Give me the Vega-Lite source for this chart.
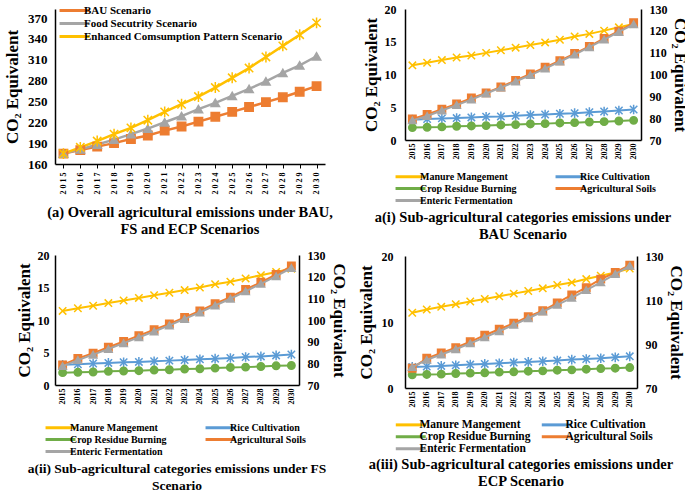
{
"$schema": "https://vega.github.io/schema/vega-lite/v6.json",
"padding": {"left": 3, "top": 3, "right": 1, "bottom": 1},
"columns": 2,
"align": "none",
"spacing": 10,
"resolve": {"scale": {"color": "independent", "stroke": "independent", "shape": "independent"}, "legend": {"color": "independent"}},
"datasets": {
"main": [
{"year":"2015","cat":"BAU Scenario","value":175},{"year":"2016","cat":"BAU Scenario","value":180},{"year":"2017","cat":"BAU Scenario","value":185},{"year":"2018","cat":"BAU Scenario","value":190},{"year":"2019","cat":"BAU Scenario","value":196},{"year":"2020","cat":"BAU Scenario","value":201},{"year":"2021","cat":"BAU Scenario","value":208},{"year":"2022","cat":"BAU Scenario","value":214},{"year":"2023","cat":"BAU Scenario","value":221},{"year":"2024","cat":"BAU Scenario","value":228},{"year":"2025","cat":"BAU Scenario","value":235},{"year":"2026","cat":"BAU Scenario","value":242},{"year":"2027","cat":"BAU Scenario","value":249},{"year":"2028","cat":"BAU Scenario","value":256},{"year":"2029","cat":"BAU Scenario","value":264},{"year":"2030","cat":"BAU Scenario","value":272},
{"year":"2015","cat":"Food Secutrity Scenario","value":175},{"year":"2016","cat":"Food Secutrity Scenario","value":181},{"year":"2017","cat":"Food Secutrity Scenario","value":188},{"year":"2018","cat":"Food Secutrity Scenario","value":195},{"year":"2019","cat":"Food Secutrity Scenario","value":203},{"year":"2020","cat":"Food Secutrity Scenario","value":211},{"year":"2021","cat":"Food Secutrity Scenario","value":220},{"year":"2022","cat":"Food Secutrity Scenario","value":229},{"year":"2023","cat":"Food Secutrity Scenario","value":239},{"year":"2024","cat":"Food Secutrity Scenario","value":248},{"year":"2025","cat":"Food Secutrity Scenario","value":258},{"year":"2026","cat":"Food Secutrity Scenario","value":268},{"year":"2027","cat":"Food Secutrity Scenario","value":279},{"year":"2028","cat":"Food Secutrity Scenario","value":291},{"year":"2029","cat":"Food Secutrity Scenario","value":302},{"year":"2030","cat":"Food Secutrity Scenario","value":315},
{"year":"2015","cat":"Enhanced Comsumption Pattern Scenario","value":175},{"year":"2016","cat":"Enhanced Comsumption Pattern Scenario","value":184},{"year":"2017","cat":"Enhanced Comsumption Pattern Scenario","value":193},{"year":"2018","cat":"Enhanced Comsumption Pattern Scenario","value":203},{"year":"2019","cat":"Enhanced Comsumption Pattern Scenario","value":212},{"year":"2020","cat":"Enhanced Comsumption Pattern Scenario","value":223},{"year":"2021","cat":"Enhanced Comsumption Pattern Scenario","value":235},{"year":"2022","cat":"Enhanced Comsumption Pattern Scenario","value":246},{"year":"2023","cat":"Enhanced Comsumption Pattern Scenario","value":257},{"year":"2024","cat":"Enhanced Comsumption Pattern Scenario","value":270},{"year":"2025","cat":"Enhanced Comsumption Pattern Scenario","value":284},{"year":"2026","cat":"Enhanced Comsumption Pattern Scenario","value":298},{"year":"2027","cat":"Enhanced Comsumption Pattern Scenario","value":314},{"year":"2028","cat":"Enhanced Comsumption Pattern Scenario","value":330},{"year":"2029","cat":"Enhanced Comsumption Pattern Scenario","value":346},{"year":"2030","cat":"Enhanced Comsumption Pattern Scenario","value":363}
],
"bau": [
{"year":"2015","cat":"Manure Mangement","value":11.4},{"year":"2016","cat":"Manure Mangement","value":11.8},{"year":"2017","cat":"Manure Mangement","value":12.2},{"year":"2018","cat":"Manure Mangement","value":12.6},{"year":"2019","cat":"Manure Mangement","value":12.9},{"year":"2020","cat":"Manure Mangement","value":13.3},{"year":"2021","cat":"Manure Mangement","value":13.7},{"year":"2022","cat":"Manure Mangement","value":14.1},{"year":"2023","cat":"Manure Mangement","value":14.5},{"year":"2024","cat":"Manure Mangement","value":14.9},{"year":"2025","cat":"Manure Mangement","value":15.3},{"year":"2026","cat":"Manure Mangement","value":15.8},{"year":"2027","cat":"Manure Mangement","value":16.2},{"year":"2028","cat":"Manure Mangement","value":16.7},{"year":"2029","cat":"Manure Mangement","value":17.2},{"year":"2030","cat":"Manure Mangement","value":17.7},
{"year":"2015","cat":"Rice Cultivation","value":3.1},{"year":"2016","cat":"Rice Cultivation","value":3.2},{"year":"2017","cat":"Rice Cultivation","value":3.3},{"year":"2018","cat":"Rice Cultivation","value":3.35},{"year":"2019","cat":"Rice Cultivation","value":3.45},{"year":"2020","cat":"Rice Cultivation","value":3.55},{"year":"2021","cat":"Rice Cultivation","value":3.6},{"year":"2022","cat":"Rice Cultivation","value":3.7},{"year":"2023","cat":"Rice Cultivation","value":3.8},{"year":"2024","cat":"Rice Cultivation","value":3.9},{"year":"2025","cat":"Rice Cultivation","value":4.0},{"year":"2026","cat":"Rice Cultivation","value":4.1},{"year":"2027","cat":"Rice Cultivation","value":4.25},{"year":"2028","cat":"Rice Cultivation","value":4.35},{"year":"2029","cat":"Rice Cultivation","value":4.5},{"year":"2030","cat":"Rice Cultivation","value":4.65},
{"year":"2015","cat":"Crop Residue Burning","value":1.9},{"year":"2016","cat":"Crop Residue Burning","value":1.95},{"year":"2017","cat":"Crop Residue Burning","value":2.0},{"year":"2018","cat":"Crop Residue Burning","value":2.1},{"year":"2019","cat":"Crop Residue Burning","value":2.15},{"year":"2020","cat":"Crop Residue Burning","value":2.2},{"year":"2021","cat":"Crop Residue Burning","value":2.3},{"year":"2022","cat":"Crop Residue Burning","value":2.35},{"year":"2023","cat":"Crop Residue Burning","value":2.45},{"year":"2024","cat":"Crop Residue Burning","value":2.5},{"year":"2025","cat":"Crop Residue Burning","value":2.6},{"year":"2026","cat":"Crop Residue Burning","value":2.65},{"year":"2027","cat":"Crop Residue Burning","value":2.75},{"year":"2028","cat":"Crop Residue Burning","value":2.8},{"year":"2029","cat":"Crop Residue Burning","value":2.9},{"year":"2030","cat":"Crop Residue Burning","value":3.0},
{"year":"2015","cat":"Agricultural Soils","value":3.2},{"year":"2016","cat":"Agricultural Soils","value":3.9},{"year":"2017","cat":"Agricultural Soils","value":4.7},{"year":"2018","cat":"Agricultural Soils","value":5.5},{"year":"2019","cat":"Agricultural Soils","value":6.4},{"year":"2020","cat":"Agricultural Soils","value":7.2},{"year":"2021","cat":"Agricultural Soils","value":8.1},{"year":"2022","cat":"Agricultural Soils","value":9.1},{"year":"2023","cat":"Agricultural Soils","value":10.1},{"year":"2024","cat":"Agricultural Soils","value":11.1},{"year":"2025","cat":"Agricultural Soils","value":12.1},{"year":"2026","cat":"Agricultural Soils","value":13.2},{"year":"2027","cat":"Agricultural Soils","value":14.3},{"year":"2028","cat":"Agricultural Soils","value":15.5},{"year":"2029","cat":"Agricultural Soils","value":16.6},{"year":"2030","cat":"Agricultural Soils","value":17.9},
{"year":"2015","cat":"Enteric Fermentation","value":79},{"year":"2016","cat":"Enteric Fermentation","value":81},{"year":"2017","cat":"Enteric Fermentation","value":83.5},{"year":"2018","cat":"Enteric Fermentation","value":86},{"year":"2019","cat":"Enteric Fermentation","value":88.5},{"year":"2020","cat":"Enteric Fermentation","value":91.3},{"year":"2021","cat":"Enteric Fermentation","value":94},{"year":"2022","cat":"Enteric Fermentation","value":96.8},{"year":"2023","cat":"Enteric Fermentation","value":99.7},{"year":"2024","cat":"Enteric Fermentation","value":102.7},{"year":"2025","cat":"Enteric Fermentation","value":105.9},{"year":"2026","cat":"Enteric Fermentation","value":109.1},{"year":"2027","cat":"Enteric Fermentation","value":112.5},{"year":"2028","cat":"Enteric Fermentation","value":116},{"year":"2029","cat":"Enteric Fermentation","value":119.5},{"year":"2030","cat":"Enteric Fermentation","value":123}
],
"fs": [
{"year":"2015","cat":"Manure Mangement","value":11.4},{"year":"2016","cat":"Manure Mangement","value":11.8},{"year":"2017","cat":"Manure Mangement","value":12.2},{"year":"2018","cat":"Manure Mangement","value":12.6},{"year":"2019","cat":"Manure Mangement","value":13.0},{"year":"2020","cat":"Manure Mangement","value":13.4},{"year":"2021","cat":"Manure Mangement","value":13.8},{"year":"2022","cat":"Manure Mangement","value":14.2},{"year":"2023","cat":"Manure Mangement","value":14.6},{"year":"2024","cat":"Manure Mangement","value":15.0},{"year":"2025","cat":"Manure Mangement","value":15.5},{"year":"2026","cat":"Manure Mangement","value":15.9},{"year":"2027","cat":"Manure Mangement","value":16.4},{"year":"2028","cat":"Manure Mangement","value":16.9},{"year":"2029","cat":"Manure Mangement","value":17.4},{"year":"2030","cat":"Manure Mangement","value":17.9},
{"year":"2015","cat":"Rice Cultivation","value":3.1},{"year":"2016","cat":"Rice Cultivation","value":3.2},{"year":"2017","cat":"Rice Cultivation","value":3.3},{"year":"2018","cat":"Rice Cultivation","value":3.4},{"year":"2019","cat":"Rice Cultivation","value":3.5},{"year":"2020","cat":"Rice Cultivation","value":3.55},{"year":"2021","cat":"Rice Cultivation","value":3.65},{"year":"2022","cat":"Rice Cultivation","value":3.75},{"year":"2023","cat":"Rice Cultivation","value":3.85},{"year":"2024","cat":"Rice Cultivation","value":3.95},{"year":"2025","cat":"Rice Cultivation","value":4.05},{"year":"2026","cat":"Rice Cultivation","value":4.15},{"year":"2027","cat":"Rice Cultivation","value":4.3},{"year":"2028","cat":"Rice Cultivation","value":4.4},{"year":"2029","cat":"Rice Cultivation","value":4.55},{"year":"2030","cat":"Rice Cultivation","value":4.7},
{"year":"2015","cat":"Crop Residue Burning","value":1.9},{"year":"2016","cat":"Crop Residue Burning","value":1.95},{"year":"2017","cat":"Crop Residue Burning","value":2.0},{"year":"2018","cat":"Crop Residue Burning","value":2.1},{"year":"2019","cat":"Crop Residue Burning","value":2.15},{"year":"2020","cat":"Crop Residue Burning","value":2.2},{"year":"2021","cat":"Crop Residue Burning","value":2.3},{"year":"2022","cat":"Crop Residue Burning","value":2.35},{"year":"2023","cat":"Crop Residue Burning","value":2.45},{"year":"2024","cat":"Crop Residue Burning","value":2.5},{"year":"2025","cat":"Crop Residue Burning","value":2.6},{"year":"2026","cat":"Crop Residue Burning","value":2.7},{"year":"2027","cat":"Crop Residue Burning","value":2.75},{"year":"2028","cat":"Crop Residue Burning","value":2.85},{"year":"2029","cat":"Crop Residue Burning","value":2.95},{"year":"2030","cat":"Crop Residue Burning","value":3.0},
{"year":"2015","cat":"Agricultural Soils","value":3.1},{"year":"2016","cat":"Agricultural Soils","value":4.1},{"year":"2017","cat":"Agricultural Soils","value":4.9},{"year":"2018","cat":"Agricultural Soils","value":5.8},{"year":"2019","cat":"Agricultural Soils","value":6.7},{"year":"2020","cat":"Agricultural Soils","value":7.6},{"year":"2021","cat":"Agricultural Soils","value":8.5},{"year":"2022","cat":"Agricultural Soils","value":9.4},{"year":"2023","cat":"Agricultural Soils","value":10.4},{"year":"2024","cat":"Agricultural Soils","value":11.4},{"year":"2025","cat":"Agricultural Soils","value":12.5},{"year":"2026","cat":"Agricultural Soils","value":13.5},{"year":"2027","cat":"Agricultural Soils","value":14.7},{"year":"2028","cat":"Agricultural Soils","value":15.8},{"year":"2029","cat":"Agricultural Soils","value":17.0},{"year":"2030","cat":"Agricultural Soils","value":18.3},
{"year":"2015","cat":"Enteric Fermentation","value":78.7},{"year":"2016","cat":"Enteric Fermentation","value":81.5},{"year":"2017","cat":"Enteric Fermentation","value":84},{"year":"2018","cat":"Enteric Fermentation","value":86.6},{"year":"2019","cat":"Enteric Fermentation","value":89.3},{"year":"2020","cat":"Enteric Fermentation","value":92},{"year":"2021","cat":"Enteric Fermentation","value":94.7},{"year":"2022","cat":"Enteric Fermentation","value":97.5},{"year":"2023","cat":"Enteric Fermentation","value":100.5},{"year":"2024","cat":"Enteric Fermentation","value":103.5},{"year":"2025","cat":"Enteric Fermentation","value":106.7},{"year":"2026","cat":"Enteric Fermentation","value":109.8},{"year":"2027","cat":"Enteric Fermentation","value":113.2},{"year":"2028","cat":"Enteric Fermentation","value":116.7},{"year":"2029","cat":"Enteric Fermentation","value":120.2},{"year":"2030","cat":"Enteric Fermentation","value":124}
],
"ecp": [
{"year":"2015","cat":"Manure Mangement","value":11.4},{"year":"2016","cat":"Manure Mangement","value":11.9},{"year":"2017","cat":"Manure Mangement","value":12.3},{"year":"2018","cat":"Manure Mangement","value":12.7},{"year":"2019","cat":"Manure Mangement","value":13.1},{"year":"2020","cat":"Manure Mangement","value":13.5},{"year":"2021","cat":"Manure Mangement","value":13.9},{"year":"2022","cat":"Manure Mangement","value":14.3},{"year":"2023","cat":"Manure Mangement","value":14.7},{"year":"2024","cat":"Manure Mangement","value":15.1},{"year":"2025","cat":"Manure Mangement","value":15.6},{"year":"2026","cat":"Manure Mangement","value":16.0},{"year":"2027","cat":"Manure Mangement","value":16.5},{"year":"2028","cat":"Manure Mangement","value":17.0},{"year":"2029","cat":"Manure Mangement","value":17.5},{"year":"2030","cat":"Manure Mangement","value":18.1},
{"year":"2015","cat":"Rice Cultivation","value":3.2},{"year":"2016","cat":"Rice Cultivation","value":3.25},{"year":"2017","cat":"Rice Cultivation","value":3.35},{"year":"2018","cat":"Rice Cultivation","value":3.45},{"year":"2019","cat":"Rice Cultivation","value":3.55},{"year":"2020","cat":"Rice Cultivation","value":3.65},{"year":"2021","cat":"Rice Cultivation","value":3.75},{"year":"2022","cat":"Rice Cultivation","value":3.85},{"year":"2023","cat":"Rice Cultivation","value":3.95},{"year":"2024","cat":"Rice Cultivation","value":4.05},{"year":"2025","cat":"Rice Cultivation","value":4.15},{"year":"2026","cat":"Rice Cultivation","value":4.3},{"year":"2027","cat":"Rice Cultivation","value":4.4},{"year":"2028","cat":"Rice Cultivation","value":4.5},{"year":"2029","cat":"Rice Cultivation","value":4.65},{"year":"2030","cat":"Rice Cultivation","value":4.8},
{"year":"2015","cat":"Crop Residue Burning","value":2.0},{"year":"2016","cat":"Crop Residue Burning","value":2.05},{"year":"2017","cat":"Crop Residue Burning","value":2.1},{"year":"2018","cat":"Crop Residue Burning","value":2.2},{"year":"2019","cat":"Crop Residue Burning","value":2.25},{"year":"2020","cat":"Crop Residue Burning","value":2.3},{"year":"2021","cat":"Crop Residue Burning","value":2.4},{"year":"2022","cat":"Crop Residue Burning","value":2.45},{"year":"2023","cat":"Crop Residue Burning","value":2.55},{"year":"2024","cat":"Crop Residue Burning","value":2.6},{"year":"2025","cat":"Crop Residue Burning","value":2.7},{"year":"2026","cat":"Crop Residue Burning","value":2.75},{"year":"2027","cat":"Crop Residue Burning","value":2.85},{"year":"2028","cat":"Crop Residue Burning","value":2.95},{"year":"2029","cat":"Crop Residue Burning","value":3.0},{"year":"2030","cat":"Crop Residue Burning","value":3.1},
{"year":"2015","cat":"Agricultural Soils","value":3.0},{"year":"2016","cat":"Agricultural Soils","value":4.5},{"year":"2017","cat":"Agricultural Soils","value":5.3},{"year":"2018","cat":"Agricultural Soils","value":6.1},{"year":"2019","cat":"Agricultural Soils","value":7.0},{"year":"2020","cat":"Agricultural Soils","value":8.0},{"year":"2021","cat":"Agricultural Soils","value":8.9},{"year":"2022","cat":"Agricultural Soils","value":9.8},{"year":"2023","cat":"Agricultural Soils","value":10.8},{"year":"2024","cat":"Agricultural Soils","value":11.7},{"year":"2025","cat":"Agricultural Soils","value":12.9},{"year":"2026","cat":"Agricultural Soils","value":14.1},{"year":"2027","cat":"Agricultural Soils","value":15.2},{"year":"2028","cat":"Agricultural Soils","value":16.5},{"year":"2029","cat":"Agricultural Soils","value":17.5},{"year":"2030","cat":"Agricultural Soils","value":18.6},
{"year":"2015","cat":"Enteric Fermentation","value":79.5},{"year":"2016","cat":"Enteric Fermentation","value":82.8},{"year":"2017","cat":"Enteric Fermentation","value":85.2},{"year":"2018","cat":"Enteric Fermentation","value":87.6},{"year":"2019","cat":"Enteric Fermentation","value":90.3},{"year":"2020","cat":"Enteric Fermentation","value":93},{"year":"2021","cat":"Enteric Fermentation","value":95.8},{"year":"2022","cat":"Enteric Fermentation","value":98.7},{"year":"2023","cat":"Enteric Fermentation","value":101.7},{"year":"2024","cat":"Enteric Fermentation","value":104.7},{"year":"2025","cat":"Enteric Fermentation","value":107.8},{"year":"2026","cat":"Enteric Fermentation","value":111},{"year":"2027","cat":"Enteric Fermentation","value":114.5},{"year":"2028","cat":"Enteric Fermentation","value":118},{"year":"2029","cat":"Enteric Fermentation","value":121.8},{"year":"2030","cat":"Enteric Fermentation","value":125.5}
]
},
"concat": [
{"concat": [
{
 "width": 270, "height": 155,
 "data": {"name": "main"},
 "title": {"text": ["(a) Overall agricultural emissions under BAU,", "FS and ECP Scenarios"], "orient": "bottom", "fontSize": 14.5, "offset": 12},
 "encoding": {
  "x": {"field": "year", "type": "ordinal", "scale": {"type": "point", "padding": 0.5}, "axis": {"title": null, "labelAngle": 270, "labelFontSize": 8, "labelPadding": 4, "tickSize": 4, "labelExpr": "join(split(datum.label, ''), ' ')"}},
  "y": {"field": "value", "type": "quantitative", "scale": {"domain": [160, 383], "nice": false, "zero": false}, "axis": {"values": [160,190,220,250,280,310,340,370], "title": "CO₂ Equivalent", "labelFontSize": 13, "labelPadding": 8, "titleFontSize": 17, "titlePadding": 6, "tickSize": 0}}
 },
 "layer": [
  {"mark": {"type": "line", "strokeWidth": 2.5},
   "encoding": {"color": {"field": "cat", "type": "nominal", "scale": {"domain": ["BAU Scenario","Food Secutrity Scenario","Enhanced Comsumption Pattern Scenario"], "range": ["#ED7D31","#A5A5A5","#FFC000"]},
     "legend": {"orient": "none", "legendX": 14, "legendY": -4, "title": null, "labelFontSize": 11, "labelFontWeight": "bold", "labelLimit": 300, "rowPadding": 0, "labelOffset": 4, "symbolType": "M-4,0L4,0", "symbolSize": 56, "symbolStrokeWidth": 3}}}},
  {"mark": {"type": "point", "filled": true, "size": 70, "strokeWidth": 1.5, "opacity": 1},
   "encoding": {
    "color": {"field": "cat", "type": "nominal", "scale": {"domain": ["BAU Scenario","Food Secutrity Scenario","Enhanced Comsumption Pattern Scenario"], "range": ["#ED7D31","#A5A5A5","#FFC000"]}, "legend": null},
    "stroke": {"field": "cat", "type": "nominal", "scale": {"domain": ["BAU Scenario","Food Secutrity Scenario","Enhanced Comsumption Pattern Scenario"], "range": ["#ED7D31","#A5A5A5","#FFC000"]}, "legend": null},
    "shape": {"field": "cat", "type": "nominal", "scale": {"domain": ["Enhanced Comsumption Pattern Scenario","Food Secutrity Scenario","BAU Scenario"], "range": ["M-1,-1L1,1M-1,1L1,-1M0,-1.3L0,1.3","triangle-up","square"]}, "legend": null}
   }}
 ]
},
{
 "width": 244, "height": 130,
 "data": {"name": "fs"},
 "title": {"text": ["a(ii) Sub-agricultural categories emissions under FS", "Scenario"], "orient": "bottom", "fontSize": 13.5, "offset": 4},
 "encoding": {"x": {"field": "year", "type": "ordinal", "scale": {"type": "point", "padding": 0.5}, "axis": {"title": null, "labelAngle": 270, "labelFontSize": 8, "labelPadding": 3, "tickSize": 0}}},
 "layer": [
  {"transform": [{"filter": "datum.cat !== 'Enteric Fermentation'"}],
   "encoding": {"y": {"field": "value", "type": "quantitative", "scale": {"domain": [0, 20], "nice": false}, "axis": {"values": [0,5,10,15,20], "title": "CO₂ Equivalent", "labelFontSize": 12, "labelPadding": 6, "titleFontSize": 17, "titlePadding": 4, "tickSize": 0}}},
   "layer": [
    {"mark": {"type": "line", "strokeWidth": 2},
     "encoding": {"color": {"field": "cat", "type": "nominal", "scale": {"domain": ["Manure Mangement","Rice Cultivation","Crop Residue Burning","Agricultural Soils","Enteric Fermentation"], "range": ["#FFC000","#5B9BD5","#70AD47","#ED7D31","#A5A5A5"]},
       "legend": {"orient": "bottom", "columns": 2, "title": null, "labelFontSize": 10, "labelFontWeight": "bold", "rowPadding": -2, "columnPadding": 32, "offset": 18, "labelOffset": 4, "symbolType": "M-4,0L4,0", "symbolSize": 56, "symbolStrokeWidth": 3}}}},
    {"mark": {"type": "point", "filled": true, "size": 55, "strokeWidth": 1.5, "opacity": 1},
     "encoding": {
      "color": {"field": "cat", "type": "nominal", "scale": {"domain": ["Manure Mangement","Rice Cultivation","Crop Residue Burning","Agricultural Soils","Enteric Fermentation"], "range": ["#FFC000","#5B9BD5","#70AD47","#ED7D31","#A5A5A5"]}, "legend": null},
      "stroke": {"field": "cat", "type": "nominal", "scale": {"domain": ["Manure Mangement","Rice Cultivation","Crop Residue Burning","Agricultural Soils","Enteric Fermentation"], "range": ["#FFC000","#5B9BD5","#70AD47","#ED7D31","#A5A5A5"]}, "legend": null},
      "shape": {"field": "cat", "type": "nominal", "scale": {"domain": ["Enteric Fermentation","Agricultural Soils","Crop Residue Burning","Rice Cultivation","Manure Mangement"], "range": ["triangle-up","square","circle","M-1,-1L1,1M-1,1L1,-1M0,-1.3L0,1.3","M-1,-1L1,1M-1,1L1,-1"]}, "legend": null}
     }}
   ]},
  {"transform": [{"filter": "datum.cat === 'Enteric Fermentation'"}],
   "encoding": {"y": {"field": "value", "type": "quantitative", "scale": {"domain": [70, 130], "nice": false, "zero": false}, "axis": {"orient": "right", "values": [70,80,90,100,110,120,130], "title": "CO₂ Equivalent", "labelFontSize": 12, "labelPadding": 8, "titleFontSize": 17, "titlePadding": 4, "tickSize": 0}}},
   "layer": [
    {"mark": {"type": "line", "strokeWidth": 2},
     "encoding": {"color": {"field": "cat", "type": "nominal", "scale": {"domain": ["Manure Mangement","Rice Cultivation","Crop Residue Burning","Agricultural Soils","Enteric Fermentation"], "range": ["#FFC000","#5B9BD5","#70AD47","#ED7D31","#A5A5A5"]}, "legend": null}}},
    {"mark": {"type": "point", "filled": true, "size": 55, "strokeWidth": 1.5, "opacity": 1},
     "encoding": {
      "color": {"field": "cat", "type": "nominal", "scale": {"domain": ["Manure Mangement","Rice Cultivation","Crop Residue Burning","Agricultural Soils","Enteric Fermentation"], "range": ["#FFC000","#5B9BD5","#70AD47","#ED7D31","#A5A5A5"]}, "legend": null},
      "stroke": {"field": "cat", "type": "nominal", "scale": {"domain": ["Manure Mangement","Rice Cultivation","Crop Residue Burning","Agricultural Soils","Enteric Fermentation"], "range": ["#FFC000","#5B9BD5","#70AD47","#ED7D31","#A5A5A5"]}, "legend": null},
      "shape": {"field": "cat", "type": "nominal", "scale": {"domain": ["Enteric Fermentation","Agricultural Soils","Crop Residue Burning","Rice Cultivation","Manure Mangement"], "range": ["triangle-up","square","circle","M-1,-1L1,1M-1,1L1,-1M0,-1.3L0,1.3","M-1,-1L1,1M-1,1L1,-1"]}, "legend": null}
     }}
   ]}
 ],
 "resolve": {"scale": {"y": "independent"}}
}
], "columns": 1, "align": "none", "spacing": 12, "resolve": {"scale": {"color": "independent", "stroke": "independent", "shape": "independent"}, "legend": {"color": "independent"}}},
{"concat": [
{
 "width": 236, "height": 131,
 "data": {"name": "bau"},
 "title": {"text": ["a(i) Sub-agricultural categories emissions under", "BAU Scenario"], "orient": "bottom", "fontSize": 14.5, "offset": 4},
 "encoding": {"x": {"field": "year", "type": "ordinal", "scale": {"type": "point", "padding": 0.5}, "axis": {"title": null, "labelAngle": 270, "labelFontSize": 8, "labelPadding": 3, "tickSize": 0}}},
 "layer": [
  {"transform": [{"filter": "datum.cat !== 'Enteric Fermentation'"}],
   "encoding": {"y": {"field": "value", "type": "quantitative", "scale": {"domain": [0, 20], "nice": false}, "axis": {"values": [0,5,10,15,20], "title": "CO₂ Equivalent", "labelFontSize": 12, "labelPadding": 9, "titleFontSize": 17, "titlePadding": 4, "tickSize": 0}}},
   "layer": [
    {"mark": {"type": "line", "strokeWidth": 2},
     "encoding": {"color": {"field": "cat", "type": "nominal", "scale": {"domain": ["Manure Mangement","Rice Cultivation","Crop Residue Burning","Agricultural Soils","Enteric Fermentation"], "range": ["#FFC000","#5B9BD5","#70AD47","#ED7D31","#A5A5A5"]},
       "legend": {"orient": "bottom", "columns": 2, "title": null, "labelFontSize": 10, "labelFontWeight": "bold", "rowPadding": -2, "columnPadding": 32, "offset": 12, "labelOffset": 4, "symbolType": "M-4,0L4,0", "symbolSize": 56, "symbolStrokeWidth": 3}}}},
    {"mark": {"type": "point", "filled": true, "size": 55, "strokeWidth": 1.5, "opacity": 1},
     "encoding": {
      "color": {"field": "cat", "type": "nominal", "scale": {"domain": ["Manure Mangement","Rice Cultivation","Crop Residue Burning","Agricultural Soils","Enteric Fermentation"], "range": ["#FFC000","#5B9BD5","#70AD47","#ED7D31","#A5A5A5"]}, "legend": null},
      "stroke": {"field": "cat", "type": "nominal", "scale": {"domain": ["Manure Mangement","Rice Cultivation","Crop Residue Burning","Agricultural Soils","Enteric Fermentation"], "range": ["#FFC000","#5B9BD5","#70AD47","#ED7D31","#A5A5A5"]}, "legend": null},
      "shape": {"field": "cat", "type": "nominal", "scale": {"domain": ["Enteric Fermentation","Agricultural Soils","Crop Residue Burning","Rice Cultivation","Manure Mangement"], "range": ["triangle-up","square","circle","M-1,-1L1,1M-1,1L1,-1M0,-1.3L0,1.3","M-1,-1L1,1M-1,1L1,-1"]}, "legend": null}
     }}
   ]},
  {"transform": [{"filter": "datum.cat === 'Enteric Fermentation'"}],
   "encoding": {"y": {"field": "value", "type": "quantitative", "scale": {"domain": [70, 130], "nice": false, "zero": false}, "axis": {"orient": "right", "values": [70,80,90,100,110,120,130], "title": "CO₂ Equivalent", "labelFontSize": 12, "labelPadding": 8, "titleFontSize": 17, "titlePadding": 3, "tickSize": 0}}},
   "layer": [
    {"mark": {"type": "line", "strokeWidth": 2},
     "encoding": {"color": {"field": "cat", "type": "nominal", "scale": {"domain": ["Manure Mangement","Rice Cultivation","Crop Residue Burning","Agricultural Soils","Enteric Fermentation"], "range": ["#FFC000","#5B9BD5","#70AD47","#ED7D31","#A5A5A5"]}, "legend": null}}},
    {"mark": {"type": "point", "filled": true, "size": 55, "strokeWidth": 1.5, "opacity": 1},
     "encoding": {
      "color": {"field": "cat", "type": "nominal", "scale": {"domain": ["Manure Mangement","Rice Cultivation","Crop Residue Burning","Agricultural Soils","Enteric Fermentation"], "range": ["#FFC000","#5B9BD5","#70AD47","#ED7D31","#A5A5A5"]}, "legend": null},
      "stroke": {"field": "cat", "type": "nominal", "scale": {"domain": ["Manure Mangement","Rice Cultivation","Crop Residue Burning","Agricultural Soils","Enteric Fermentation"], "range": ["#FFC000","#5B9BD5","#70AD47","#ED7D31","#A5A5A5"]}, "legend": null},
      "shape": {"field": "cat", "type": "nominal", "scale": {"domain": ["Enteric Fermentation","Agricultural Soils","Crop Residue Burning","Rice Cultivation","Manure Mangement"], "range": ["triangle-up","square","circle","M-1,-1L1,1M-1,1L1,-1M0,-1.3L0,1.3","M-1,-1L1,1M-1,1L1,-1"]}, "legend": null}
     }}
   ]}
 ],
 "resolve": {"scale": {"y": "independent"}}
},
{
 "width": 232, "height": 132,
 "data": {"name": "ecp"},
 "title": {"text": ["a(iii) Sub-agricultural categories emissions under", "ECP Scenario"], "orient": "bottom", "fontSize": 14.5, "offset": 3},
 "encoding": {"x": {"field": "year", "type": "ordinal", "scale": {"type": "point", "padding": 0.5}, "axis": {"title": null, "labelAngle": 270, "labelFontSize": 8, "labelPadding": 3, "tickSize": 0}}},
 "layer": [
  {"transform": [{"filter": "datum.cat !== 'Enteric Fermentation'"}],
   "encoding": {"y": {"field": "value", "type": "quantitative", "scale": {"domain": [0, 20], "nice": false}, "axis": {"values": [0,10,20], "title": "CO₂ Equivalent", "labelFontSize": 12, "labelPadding": 12, "titleFontSize": 17, "titlePadding": 6, "tickSize": 0}}},
   "layer": [
    {"mark": {"type": "line", "strokeWidth": 2},
     "encoding": {"color": {"field": "cat", "type": "nominal", "scale": {"domain": ["Manure Mangement","Rice Cultivation","Crop Residue Burning","Agricultural Soils","Enteric Fermentation"], "range": ["#FFC000","#5B9BD5","#70AD47","#ED7D31","#A5A5A5"]},
       "legend": {"orient": "bottom", "columns": 2, "title": null, "labelFontSize": 11.5, "labelFontWeight": "bold", "rowPadding": -1, "columnPadding": 4, "offset": 12, "labelOffset": 3, "symbolType": "M-4,0L4,0", "symbolSize": 56, "symbolStrokeWidth": 3}}}},
    {"mark": {"type": "point", "filled": true, "size": 55, "strokeWidth": 1.5, "opacity": 1},
     "encoding": {
      "color": {"field": "cat", "type": "nominal", "scale": {"domain": ["Manure Mangement","Rice Cultivation","Crop Residue Burning","Agricultural Soils","Enteric Fermentation"], "range": ["#FFC000","#5B9BD5","#70AD47","#ED7D31","#A5A5A5"]}, "legend": null},
      "stroke": {"field": "cat", "type": "nominal", "scale": {"domain": ["Manure Mangement","Rice Cultivation","Crop Residue Burning","Agricultural Soils","Enteric Fermentation"], "range": ["#FFC000","#5B9BD5","#70AD47","#ED7D31","#A5A5A5"]}, "legend": null},
      "shape": {"field": "cat", "type": "nominal", "scale": {"domain": ["Enteric Fermentation","Agricultural Soils","Crop Residue Burning","Rice Cultivation","Manure Mangement"], "range": ["triangle-up","square","circle","M-1,-1L1,1M-1,1L1,-1M0,-1.3L0,1.3","M-1,-1L1,1M-1,1L1,-1"]}, "legend": null}
     }}
   ]},
  {"transform": [{"filter": "datum.cat === 'Enteric Fermentation'"}],
   "encoding": {"y": {"field": "value", "type": "quantitative", "scale": {"domain": [70, 130], "nice": false, "zero": false}, "axis": {"orient": "right", "values": [70,90,110,130], "title": "CO₂ Equivalent", "labelFontSize": 12, "labelPadding": 8, "titleFontSize": 17, "titlePadding": 3, "tickSize": 0}}},
   "layer": [
    {"mark": {"type": "line", "strokeWidth": 2},
     "encoding": {"color": {"field": "cat", "type": "nominal", "scale": {"domain": ["Manure Mangement","Rice Cultivation","Crop Residue Burning","Agricultural Soils","Enteric Fermentation"], "range": ["#FFC000","#5B9BD5","#70AD47","#ED7D31","#A5A5A5"]}, "legend": null}}},
    {"mark": {"type": "point", "filled": true, "size": 55, "strokeWidth": 1.5, "opacity": 1},
     "encoding": {
      "color": {"field": "cat", "type": "nominal", "scale": {"domain": ["Manure Mangement","Rice Cultivation","Crop Residue Burning","Agricultural Soils","Enteric Fermentation"], "range": ["#FFC000","#5B9BD5","#70AD47","#ED7D31","#A5A5A5"]}, "legend": null},
      "stroke": {"field": "cat", "type": "nominal", "scale": {"domain": ["Manure Mangement","Rice Cultivation","Crop Residue Burning","Agricultural Soils","Enteric Fermentation"], "range": ["#FFC000","#5B9BD5","#70AD47","#ED7D31","#A5A5A5"]}, "legend": null},
      "shape": {"field": "cat", "type": "nominal", "scale": {"domain": ["Enteric Fermentation","Agricultural Soils","Crop Residue Burning","Rice Cultivation","Manure Mangement"], "range": ["triangle-up","square","circle","M-1,-1L1,1M-1,1L1,-1M0,-1.3L0,1.3","M-1,-1L1,1M-1,1L1,-1"]}, "legend": null}
     }}
   ]}
 ],
 "resolve": {"scale": {"y": "independent"}}
}
], "columns": 1, "align": "none", "spacing": 8, "resolve": {"scale": {"color": "independent", "stroke": "independent", "shape": "independent"}, "legend": {"color": "independent"}}}
],
"config": {
 "font": "Liberation Serif",
 "background": "white",
 "view": {"stroke": null},
 "axis": {"grid": false, "domainColor": "black", "domainWidth": 1.5, "tickColor": "black", "labelColor": "black", "titleColor": "black", "labelFont": "Liberation Serif", "titleFont": "Liberation Serif", "labelFontWeight": "bold", "titleFontWeight": "bold"},
 "legend": {"labelFont": "Liberation Serif", "labelColor": "black"},
 "title": {"font": "Liberation Serif", "fontWeight": "bold", "color": "black", "anchor": "middle", "lineHeight": 17}
}
}
